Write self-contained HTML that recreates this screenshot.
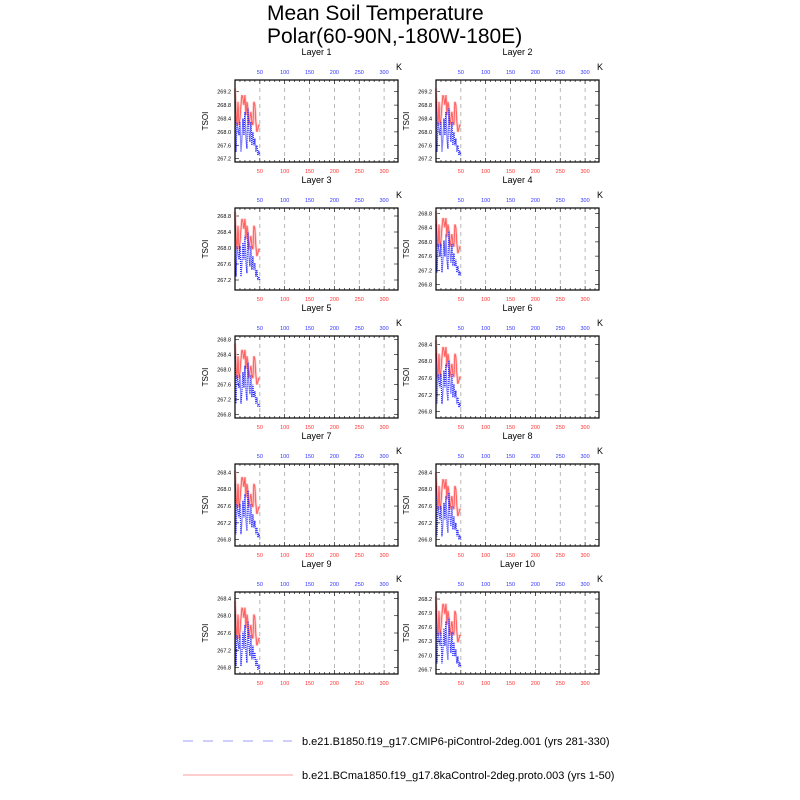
<!DOCTYPE html>
<html><head><meta charset="utf-8"><style>
body{margin:0;background:#fff;}
svg{display:block;font-family:"Liberation Sans",sans-serif;}
</style></head><body>
<svg id="chart" width="800" height="800" viewBox="0 0 800 800">
<text x="267" y="20" font-size="21">Mean Soil Temperature</text>
<text x="267" y="43" font-size="21">Polar(60-90N,-180W-180E)</text>
<g>
<line x1="183" y1="741" x2="292" y2="741" stroke="#b0b0ff" stroke-width="1.2" stroke-dasharray="10,10"/>
<text x="302" y="745" font-size="11">b.e21.B1850.f19_g17.CMIP6-piControl-2deg.001 (yrs 281-330)</text>
<line x1="183" y1="775" x2="293" y2="775" stroke="#ffb0b0" stroke-width="1.2"/>
<text x="302" y="779" font-size="11">b.e21.BCma1850.f19_g17.8kaControl-2deg.proto.003 (yrs 1-50)</text>
</g>
</svg>
<script>
const layers=["Layer 1","Layer 2","Layer 3","Layer 4","Layer 5","Layer 6","Layer 7","Layer 8","Layer 9","Layer 10"];
const xTicks=[50,100,150,200,250,300];
const xValues=[0,2,4,6,8,10,12,14,16,18,20,22,24,26,28,30,32,34,36,38,40,42,44,46,48,50];
const redBase=[269.3,268.6,268.2,268.9,268.2,268.4,268.8,269.1,269.0,268.8,269.1,268.5,268.9,268.7,268.2,268.4,268.6,268.3,268.2,268.9,268.8,268.3,268.0,268.1,268.2,268.2];
const blueBase=[268.9,267.4,268.3,268.1,267.9,268.3,267.4,267.8,268.4,267.9,268.6,267.8,267.5,268.7,268.0,267.7,268.3,267.6,268.0,267.6,267.8,267.4,267.6,267.3,267.4,267.3];
const layerOffset=[0,0,-0.4,-0.45,-0.6,-0.8,-0.85,-0.9,-0.95,-1.05];
const layerScale=[1,1,0.85,0.9,0.85,0.8,0.8,0.8,0.8,0.75];
const yMinArr=[267.1,267.1,266.95,266.65,266.7,266.65,266.65,266.65,266.65,266.6];
const yMaxArr=[269.55,269.55,269.0,268.95,268.9,268.6,268.6,268.6,268.55,268.35];
const yTickSets=[[267.2,267.6,268.0,268.4,268.8,269.2],[267.2,267.6,268.0,268.4,268.8,269.2],[267.2,267.6,268.0,268.4,268.8],[266.8,267.2,267.6,268.0,268.4,268.8],[266.8,267.2,267.6,268.0,268.4,268.8],[266.8,267.2,267.6,268.0,268.4],[266.8,267.2,267.6,268.0,268.4],[266.8,267.2,267.6,268.0,268.4],[266.8,267.2,267.6,268.0,268.4],[266.7,267.0,267.3,267.6,267.9,268.2]];
const xMax=328;
const svg=document.getElementById('chart');
const NS='http://www.w3.org/2000/svg';
function mk(tag,attrs,parent){const e=document.createElementNS(NS,tag);for(const k in attrs)e.setAttribute(k,attrs[k]);parent.appendChild(e);return e;}
const colLeft=[235,436],rowTop=[80,208,336,464,592],W=163,H=82;
layers.forEach((name,i)=>{
  const L=colLeft[i%2],T=rowTop[Math.floor(i/2)];
  const g=mk('g',{},svg);
  
  
  const yMin=yMinArr[i],yMax=yMaxArr[i];
  const sx=v=>L+v/xMax*W;
  const sy=v=>T+H-(v-yMin)/(yMax-yMin)*H;
  const t=mk('text',{x:L+W/2,y:T-25,'font-size':9,'text-anchor':'middle'},g);t.textContent=name;
  
  
  const k=mk('text',{x:L+W-2,y:T-10,'font-size':9},g);k.textContent='K';
  
  
  const yl=mk('text',{x:0,y:0,'font-size':8,'text-anchor':'middle',transform:`translate(${L-27},${T+H/2}) rotate(-90)`},g);yl.textContent='TSOI';
  
  
  xTicks.forEach(v=>{
    const x=sx(v);
    const gl=mk('line',{x1:x,y1:T,x2:x,y2:T+H,stroke:'#999','stroke-width':0.7,'stroke-dasharray':'4,4'},g);
    
    
    const a=mk('text',{x:x,y:T-6,'font-size':5.5,fill:'#3333ff','text-anchor':'middle'},g);a.textContent=v;
    
    
    const b=mk('text',{x:x,y:T+H+11,'font-size':5.5,fill:'#ff3333','text-anchor':'middle'},g);b.textContent=v;
    
    
  });
  for(let v=10;v<xMax;v+=10){const x=sx(v);const mj=v%50===0?4:2;
    mk('line',{x1:x,y1:T,x2:x,y2:T+mj,stroke:'#000','stroke-width':0.6},g);
    mk('line',{x1:x,y1:T+H,x2:x,y2:T+H-mj,stroke:'#000','stroke-width':0.6},g);}
  yTickSets[i].forEach(v=>{
    const y=sy(v);
    mk('line',{x1:L,y1:y,x2:L+4,y2:y,stroke:'#000','stroke-width':0.6},g);
    mk('line',{x1:L+W,y1:y,x2:L+W-4,y2:y,stroke:'#000','stroke-width':0.6},g);
    const a=mk('text',{x:L-4,y:y+2,'font-size':5.5,'text-anchor':'end'},g);a.textContent=v.toFixed(1);
    
    
  });
  const red=xValues.map((x,j)=>sx(x)+','+sy((redBase[j]-redBase[0])*layerScale[i]+redBase[0]+layerOffset[i])).join(' ');
  const blue=xValues.map((x,j)=>sx(x)+','+sy((blueBase[j]-redBase[0])*layerScale[i]+redBase[0]+layerOffset[i])).join(' ');
  const rb=mk('polyline',{points:red,fill:'none',stroke:'#ffc0c0','stroke-width':2.5},g);
  
  
  const rl=mk('polyline',{points:red,fill:'none',stroke:'#ff4444','stroke-width':0.7},g);
  
  
  const bl=mk('polyline',{points:blue,fill:'none',stroke:'#2222ff','stroke-width':1.3,'stroke-dasharray':'1,1'},g);
  
  
  const fr=mk('rect',{x:L,y:T,width:W,height:H,fill:'none',stroke:'#000','stroke-width':1.2},g);
  
  
});
</script>
</body></html>
